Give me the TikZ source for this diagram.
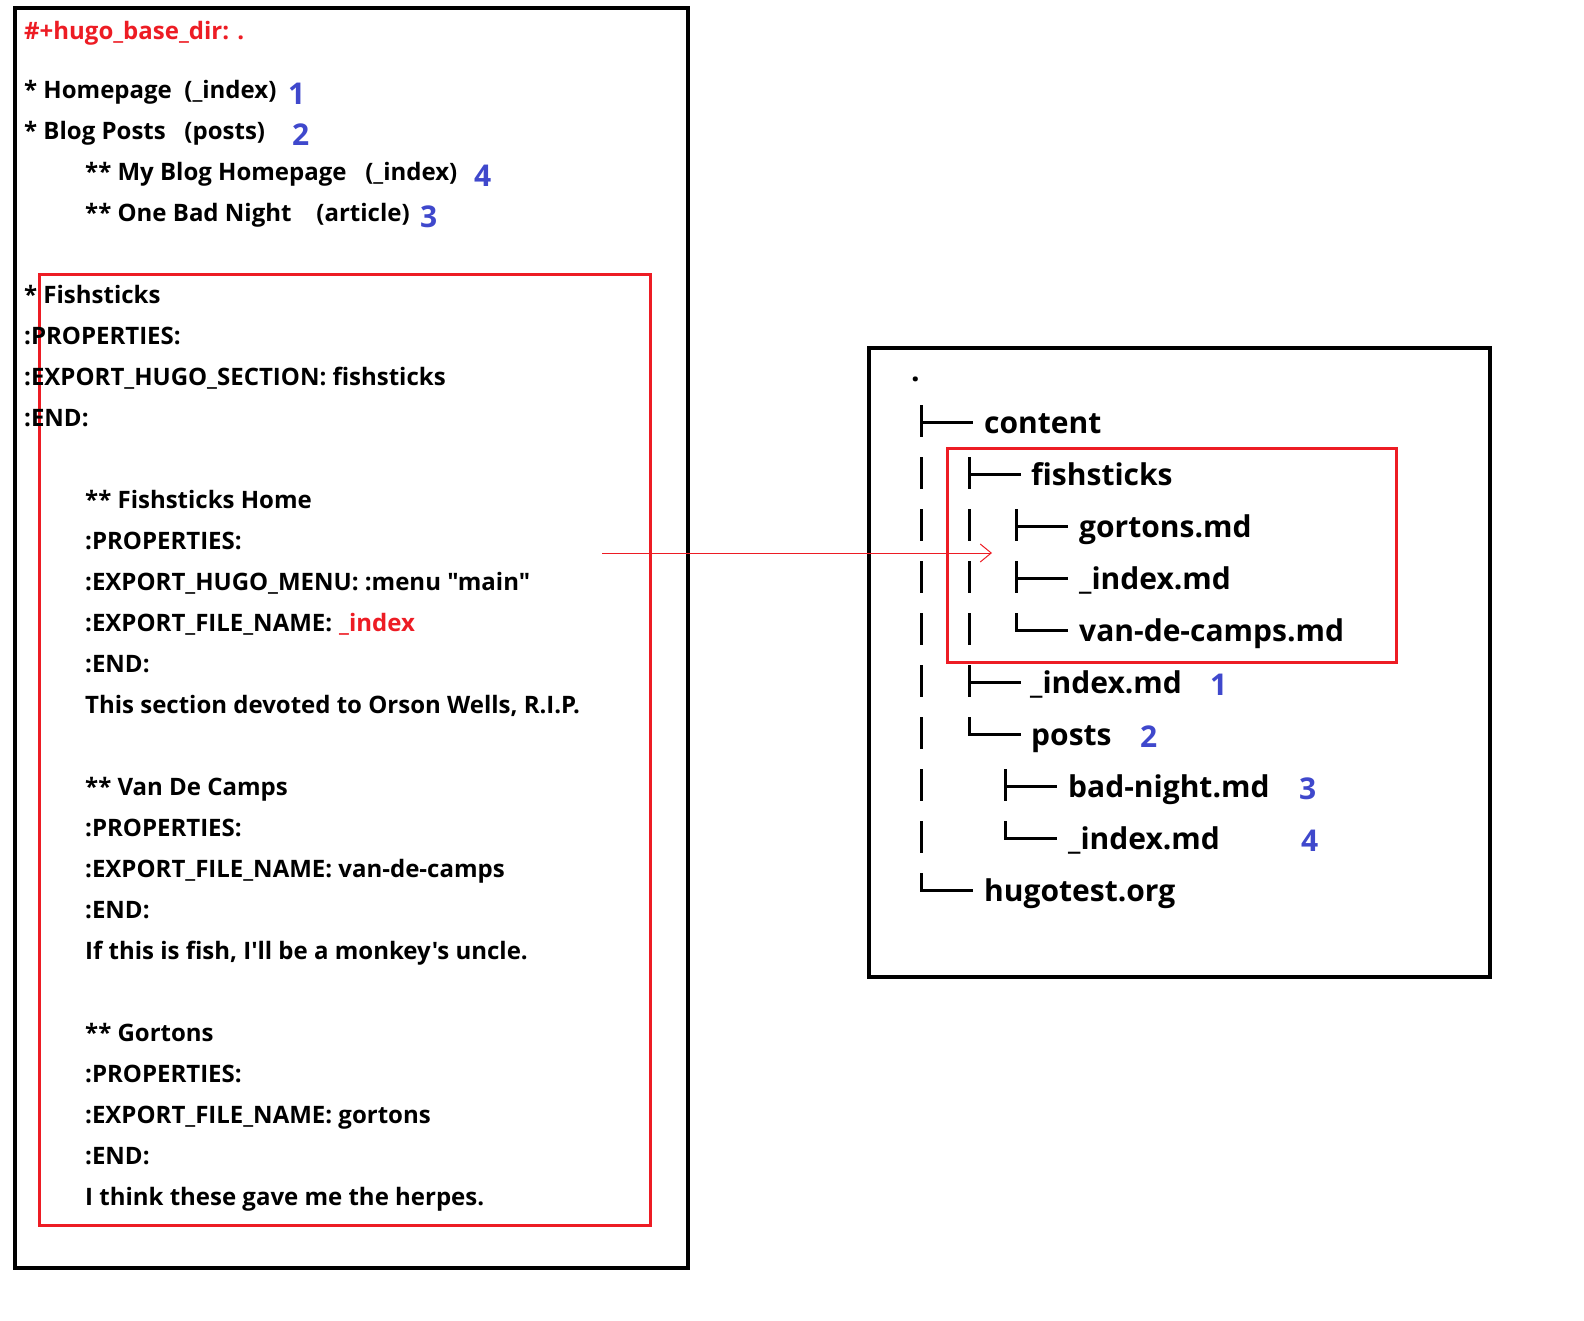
\documentclass[tikz,border=0pt]{standalone}
\usepackage{fontspec}
\newfontfamily\uif{Open Sans}
\usetikzlibrary{arrows.meta}
\definecolor{pred}{HTML}{ED1C24}
\definecolor{pblue}{HTML}{3F48CC}
\tikzset{
  ln/.style={anchor=base west, inner sep=0pt, font=\uif\bfseries\fontsize{24}{24}\selectfont},
  tr/.style={anchor=base west, inner sep=0pt, font=\uif\bfseries\fontsize{30}{30}\selectfont},
  num/.style={anchor=base west, inner sep=0pt, text=pblue, font=\uif\bfseries\fontsize{30}{30}\selectfont},
  blackbox/.style={draw=black, line width=3.5pt},
  redbox/.style={draw=pred, line width=3pt},
  treeline/.style={draw=black, line width=3pt},
}
\begin{document}
\begin{tikzpicture}[x=1pt,y=-1pt]
\useasboundingbox (0,0) rectangle (1584,1320);
% boxes
\draw[blackbox] (15,8) rectangle (688,1268);
\draw[redbox] (39,274) rectangle (650,1225);
\draw[blackbox] (869,348) rectangle (1490,977);
\draw[redbox] (947,448) rectangle (1396,662);
% left text
\node[ln, text=pred] (hdr) at (24,39) {\#+hugo\_base\_dir: .};
\node[ln] (l0) at (24,98) {* Homepage\ \ (\_index)};
\node[ln] (l1) at (24,139) {* Blog Posts\ \ \ (posts)};
\node[ln] (l2) at (85,180) {** My Blog Homepage\ \ \ (\_index)};
\node[ln] (l3) at (85,221) {** One Bad Night\ \ \ \ (article)};
\node[num] (n1) at (288,104) {1};
\node[num] (n2) at (292,145) {2};
\node[num] (n4) at (474,186) {4};
\node[num] (n3) at (420,227) {3};
\node[ln] (l5) at (24,303) {* Fishsticks};
\node[ln] (l6) at (24,344) {:PROPERTIES:};
\node[ln] (l7) at (24,385) {:EXPORT\_HUGO\_SECTION: fishsticks};
\node[ln] (l8) at (24,426) {:END:};
\node[ln] (l10) at (85,508) {** Fishsticks Home};
\node[ln] (l11) at (85,549) {:PROPERTIES:};
\node[ln] (l12) at (85,590) {:EXPORT\_HUGO\_MENU: :menu "main"};
\node[ln] (l13) at (85,631) {:EXPORT\_FILE\_NAME:};
\node[ln, text=pred] (l13r) at (339,631) {\_index};
\node[ln] (l14) at (85,672) {:END:};
\node[ln] (l15) at (85,713) {This section devoted to Orson Wells, R.I.P.};
\node[ln] (l17) at (85,795) {** Van De Camps};
\node[ln] (l18) at (85,836) {:PROPERTIES:};
\node[ln] (l19) at (85,877) {:EXPORT\_FILE\_NAME: van-de-camps};
\node[ln] (l20) at (85,918) {:END:};
\node[ln] (l21) at (85,959) {If this is fish, I'll be a monkey's uncle.};
\node[ln] (l23) at (85,1041) {** Gortons};
\node[ln] (l24) at (85,1082) {:PROPERTIES:};
\node[ln] (l25) at (85,1123) {:EXPORT\_FILE\_NAME: gortons};
\node[ln] (l26) at (85,1164) {:END:};
\node[ln] (l27) at (85,1205) {I think these gave me the herpes.};
% right tree
\node[tr] (dot) at (911,381) {.};
\node[tr] (t0) at (984,433) {content};
\node[tr] (t1) at (1031,485) {fishsticks};
\node[tr] (t2) at (1079,537) {gortons.md};
\node[tr] (t3) at (1079,589) {\_index.md};
\node[tr] (t4) at (1079,641) {van-de-camps.md};
\node[tr] (t5) at (1030,693) {\_index.md};
\node[tr] (t6) at (1031,745) {posts};
\node[tr] (t7) at (1068,797) {bad-night.md};
\node[tr] (t8) at (1068,849) {\_index.md};
\node[tr] (t9) at (984,901) {hugotest.org};
\node[num] (r1) at (1210,695) {1};
\node[num] (r2) at (1140,747) {2};
\node[num] (r3) at (1299,799) {3};
\node[num] (r4) at (1301,851) {4};
% continuing bars
\foreach \x/\b in {921/485,921/537,921/589,921/641,921/693,921/745,921/797,921/849,
                   969/537,969/589,969/641}
  \draw[treeline] (\x,\b-28) -- (\x,\b+4);
% tee branches
\foreach \x/\b in {921/433,969/485,1016/537,1016/589,969/693,1005/797}
  \draw[treeline] (\x,\b-28) -- (\x,\b+4) (\x,\b-11) -- (\x+52,\b-11);
% last branches
\foreach \x/\b in {1016/641,969/745,1005/849,921/901}
  \draw[treeline] (\x,\b-28) -- (\x,\b-11) -- (\x+52,\b-11);
% arrow
\coordinate (arrS) at (602,553);
\coordinate (arrE) at (992,553);
\draw[pred, line width=1pt, -{Straight Barb[length=11pt,width=18pt]}] (arrS) -- (arrE);
\end{tikzpicture}
\end{document}
